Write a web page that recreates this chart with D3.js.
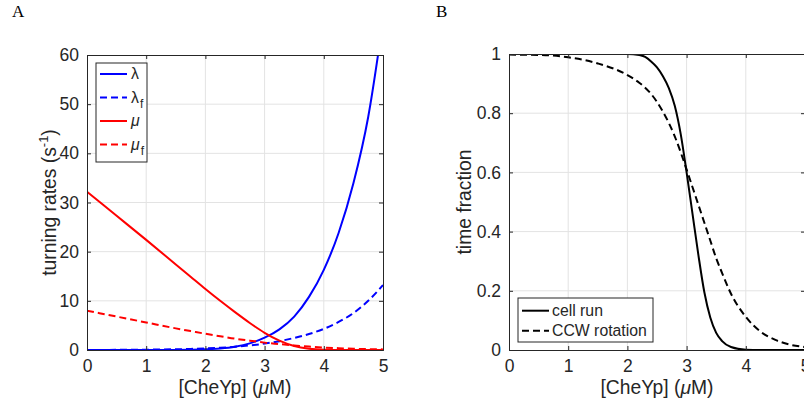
<!DOCTYPE html>
<html>
<head>
<meta charset="utf-8">
<script src="https://cdn.jsdelivr.net/npm/d3@7"></script>
<style>
  body { margin: 0; background: #fff; }
  svg { display: block; }
  text { font-family: "Liberation Sans", Arial, sans-serif; fill: #262626; }
</style>
</head>
<body>
<div id="chart"></div>
<script>
// Panel A - turning rates vs [CheYp]
const cheYpA = [0, 0.5, 1, 1.5, 1.75, 2, 2.25, 2.5, 2.75, 3, 3.25, 3.5, 3.75, 4, 4.25, 4.5, 4.75, 5]
const lambda = [0, 0, 0.004, 0.025, 0.06, 0.14, 0.32, 0.68, 1.35, 2.5, 4.2, 6.8, 10.8, 16.3, 23.8, 33.9, 47.4, 67]
const lambdaF = [0.01, 0.03, 0.07, 0.15, 0.22, 0.32, 0.46, 0.66, 0.93, 1.3, 1.8, 2.45, 3.25, 4.3, 5.7, 7.5, 10.0, 13.2]
const mu = [32.2, 27.3, 22.4, 17.4, 14.9, 12.4, 10.0, 7.7, 5.5, 3.5, 1.9, 0.8, 0.25, 0.05, 0.01, 0, 0, 0]
const muF = [8.0, 6.8, 5.6, 4.4, 3.85, 3.3, 2.8, 2.3, 1.9, 1.5, 1.2, 0.9, 0.7, 0.5, 0.37, 0.25, 0.18, 0.12]

// Panel B - time fractions vs [CheYp]
const cheYpB = [0, 0.5, 1, 1.5, 2, 2.2, 2.3, 2.4, 2.5, 2.6, 2.7, 2.8, 2.9, 3, 3.1, 3.2, 3.3, 3.4, 3.5, 3.6, 3.75, 4, 4.25, 4.5, 4.75, 5]
const cellRun = [1, 1, 1, 1, 1, 0.997, 0.99, 0.975, 0.955, 0.925, 0.885, 0.825, 0.73, 0.6, 0.46, 0.32, 0.195, 0.11, 0.058, 0.03, 0.01, 0.001, 0, 0, 0, 0]
const ccwRotation = [0.998, 0.997, 0.989, 0.968, 0.929, 0.903, 0.886, 0.865, 0.838, 0.805, 0.767, 0.722, 0.668, 0.61, 0.55, 0.49, 0.43, 0.37, 0.31, 0.26, 0.19, 0.112, 0.062, 0.034, 0.018, 0.01]

const xTicks = [0, 1, 2, 3, 4, 5]
const yTicksA = [0, 10, 20, 30, 40, 50, 60]
const yTicksB = [0, 0.2, 0.4, 0.6, 0.8, 1]

const W = 804, H = 407
const TICK_FONT = 17.5, LABEL_FONT = 19.3, LEGEND_FONT = 15.8
const AXIS_COLOR = "#262626", GRID_COLOR = "#e3e3e3"

const svg = d3.select("#chart").append("svg")
  .attr("width", W)
  .attr("height", H)

function panel(box, yDomain, yTicks, yFmt, id) {
  const w = box.right - box.left, h = box.bottom - box.top
  const x = d3.scaleLinear().domain([0, 5]).range([0, w])
  const y = d3.scaleLinear().domain(yDomain).range([h, 0])
  const g = svg.append("g").attr("transform", `translate(${box.left}, ${box.top})`)

  // grid
  g.append("g").selectAll("line").data(xTicks.slice(1, -1)).join("line")
    .attr("x1", d => x(d)).attr("x2", d => x(d)).attr("y1", 0).attr("y2", h)
    .attr("stroke", GRID_COLOR)
  g.append("g").selectAll("line").data(yTicks.slice(1, -1)).join("line")
    .attr("y1", d => y(d)).attr("y2", d => y(d)).attr("x1", 0).attr("x2", w)
    .attr("stroke", GRID_COLOR)

  g.append("clipPath").attr("id", id)
    .append("rect").attr("width", w).attr("height", h)

  const plot = g.append("g").attr("clip-path", `url(#${id})`)

  // axes, inward ticks on all four sides
  const axes = g.append("g")
  axes.append("g").attr("transform", `translate(0, ${h})`)
    .call(d3.axisBottom(x).tickValues(xTicks).tickSize(-4).tickPadding(10).tickFormat(d3.format("d")))
  axes.append("g")
    .call(d3.axisTop(x).tickValues(xTicks).tickSize(-4).tickFormat(""))
  axes.append("g")
    .call(d3.axisLeft(y).tickValues(yTicks).tickSize(-4).tickPadding(8).tickFormat(yFmt))
  axes.append("g").attr("transform", `translate(${w}, 0)`)
    .call(d3.axisRight(y).tickValues(yTicks).tickSize(-4).tickFormat(""))
  axes.selectAll(".domain, .tick line").attr("stroke", AXIS_COLOR)
  axes.selectAll(".tick text").attr("font-size", TICK_FONT).attr("fill", AXIS_COLOR)
    .attr("font-family", '"Liberation Sans", Arial, sans-serif')

  // x label
  const xl = g.append("text")
    .attr("x", w / 2).attr("y", h + 44)
    .attr("text-anchor", "middle")
    .attr("font-size", LABEL_FONT)
  xl.append("tspan").text("[CheYp] (")
  xl.append("tspan").attr("font-style", "italic").text("μ")
  xl.append("tspan").text("M)")

  return { g, plot, x, y, w, h }
}

function drawLine(p, xs, ys, color, dashed) {
  const line = d3.line()
    .x((d, i) => p.x(xs[i]))
    .y(d => p.y(d))
    .curve(d3.curveMonotoneX)
  p.plot.append("path")
    .attr("d", line(ys))
    .attr("fill", "none")
    .attr("stroke", color)
    .attr("stroke-width", 2)
    .attr("stroke-dasharray", dashed ? "7,4" : null)
}

// ---- Panel A
const A = panel({ left: 87, right: 383, top: 55, bottom: 350 }, [0, 60], yTicksA, d3.format("d"), "clipA")
drawLine(A, cheYpA, lambda, "#0000ff", false)
drawLine(A, cheYpA, lambdaF, "#0000ff", true)
drawLine(A, cheYpA, mu, "#ff0000", false)
drawLine(A, cheYpA, muF, "#ff0000", true)

const ylA = A.g.append("text")
  .attr("transform", `translate(-31, ${A.h / 2}) rotate(-90)`)
  .attr("text-anchor", "middle")
  .attr("font-size", LABEL_FONT)
ylA.append("tspan").text("turning rates (s")
ylA.append("tspan").attr("font-size", 13).attr("dy", -8).text("-1")
ylA.append("tspan").attr("dy", 8).text(")")

// legend A
const legA = [
  { sym: "λ", sub: "", color: "#0000ff", dashed: false, italic: false },
  { sym: "λ", sub: "f", color: "#0000ff", dashed: true, italic: false },
  { sym: "μ", sub: "", color: "#ff0000", dashed: false, italic: true },
  { sym: "μ", sub: "f", color: "#ff0000", dashed: true, italic: true }
]
const lgA = A.g.append("g").attr("transform", "translate(9, 8)")
lgA.append("rect").attr("width", 51).attr("height", 99)
  .attr("fill", "#fff").attr("stroke", AXIS_COLOR)
legA.forEach((d, i) => {
  const cy = 11 + i * 23.5
  lgA.append("line").attr("x1", 4).attr("x2", 31).attr("y1", cy).attr("y2", cy)
    .attr("stroke", d.color).attr("stroke-width", 2)
    .attr("stroke-dasharray", d.dashed ? "7,4" : null)
  const t = lgA.append("text").attr("x", 35).attr("y", cy + 5).attr("font-size", LEGEND_FONT)
  t.append("tspan").attr("font-style", d.italic ? "italic" : null).text(d.sym)
  if (d.sub) t.append("tspan").attr("font-size", 12).attr("dy", 5).attr("dx", 1).text(d.sub)
})

// ---- Panel B
const B = panel({ left: 509, right: 805, top: 54, bottom: 350 }, [0, 1], yTicksB, d => d === 0 || d === 1 ? d3.format("d")(d) : d3.format(".1f")(d), "clipB")
drawLine(B, cheYpB, cellRun, "#000", false)
drawLine(B, cheYpB, ccwRotation, "#000", true)

B.g.append("text")
  .attr("transform", `translate(-38, ${B.h / 2}) rotate(-90)`)
  .attr("text-anchor", "middle")
  .attr("font-size", LABEL_FONT)
  .text("time fraction")

const legB = [
  { name: "cell run", dashed: false },
  { name: "CCW rotation", dashed: true }
]
const lgB = B.g.append("g").attr("transform", "translate(9, 244)")
lgB.append("rect").attr("width", 135).attr("height", 44)
  .attr("fill", "#fff").attr("stroke", AXIS_COLOR)
legB.forEach((d, i) => {
  const cy = 12.7 + i * 20
  lgB.append("line").attr("x1", 4).attr("x2", 31).attr("y1", cy).attr("y2", cy)
    .attr("stroke", "#000").attr("stroke-width", 2)
    .attr("stroke-dasharray", d.dashed ? "7,4" : null)
  lgB.append("text").attr("x", 34).attr("y", cy + 5.5).attr("font-size", LEGEND_FONT).text(d.name)
})

// panel letters (serif, as in the original figure)
svg.append("text").attr("x", 12).attr("y", 17).text("A")
  .style("font-family", '"Liberation Serif", "Times New Roman", serif').style("font-size", "17px").style("fill", "#000")
svg.append("text").attr("x", 436).attr("y", 17).text("B")
  .style("font-family", '"Liberation Serif", "Times New Roman", serif').style("font-size", "17px").style("fill", "#000")
</script>
</body>
</html>
